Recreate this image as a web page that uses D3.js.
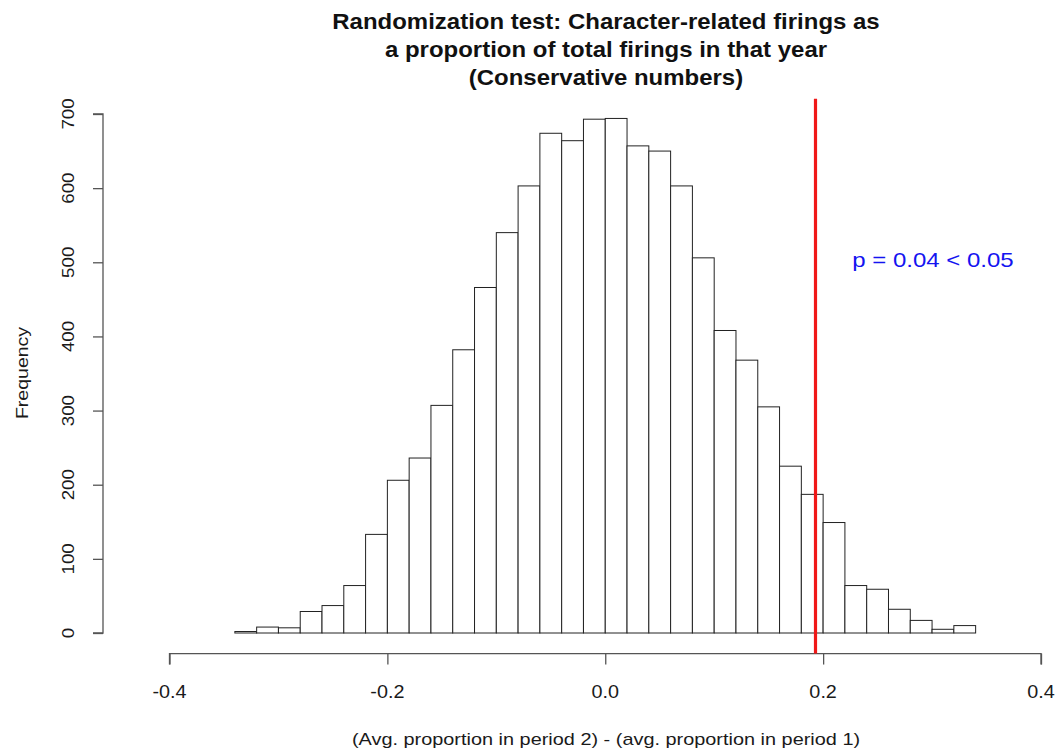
<!DOCTYPE html>
<html><head><meta charset="utf-8">
<script src="https://cdn.jsdelivr.net/npm/d3@7"></script>
<style>body{margin:0;background:#fff;} svg{display:block;font-family:"Liberation Sans",Arial,sans-serif;}</style>
</head><body>
<svg id="c" width="1057" height="751"></svg>
<script>
const binStarts = [-0.34,-0.32,-0.30,-0.28,-0.26,-0.24,-0.22,-0.20,-0.18,-0.16,-0.14,-0.12,-0.10,-0.08,-0.06,-0.04,-0.02,0.00,0.02,0.04,0.06,0.08,0.10,0.12,0.14,0.16,0.18,0.20,0.22,0.24,0.26,0.28,0.30,0.32];
const counts = [2,8,7,29,37,64,133,206,236,307,382,466,540,603,674,664,693,694,657,650,603,506,408,368,305,225,187,149,64,59,32,17,5,10];
const binWidth = 0.02;
const xTicks = [-0.4,-0.2,0.0,0.2,0.4];
const yTicks = [0,100,200,300,400,500,600,700];
const observed = 0.193;
const titleLines = ["Randomization test: Character-related firings as","a proportion of total firings in that year","(Conservative numbers)"];
const pLabel = "p = 0.04 < 0.05";
const xLabel = "(Avg. proportion in period 2) - (avg. proportion in period 1)";
const yLabel = "Frequency";

const svg = d3.select("#c");
const x = d3.scaleLinear().domain([-0.4,0.4]).range([169.5,1041]);
const y = d3.scaleLinear().domain([0,700]).range([633,114]);
const plotTop = y(720.7), plotBottom = y(-27.7);
const fmt = d => d3.format(".1f")(d).replace("\u2212","-");

function label(g, txt, tx, ty, rot, size, sx, opts={}) {
  return g.append("text")
    .attr("transform", `translate(${tx},${ty}) rotate(${rot}) scale(${sx},1)`)
    .attr("text-anchor","middle").attr("font-size",size)
    .attr("fill", opts.fill || "#1a1a1a")
    .attr("font-weight", opts.bold ? "bold" : "normal")
    .text(txt);
}

// bars
svg.append("g").selectAll("rect").data(binStarts).join("rect")
  .attr("x", (d)=>x(d)).attr("width", x(binWidth)-x(0))
  .attr("y", (d,i)=>y(counts[i])).attr("height", (d,i)=>y(0)-y(counts[i]))
  .attr("fill","#fff").attr("stroke","#222").attr("stroke-width",1);

// x axis
const gx = svg.append("g").attr("transform",`translate(0,${plotBottom})`)
  .call(d3.axisBottom(x).tickValues(xTicks).tickFormat("").tickSize(11));
gx.selectAll("path,line").attr("stroke","#555").attr("stroke-width",1.3);
gx.select(".domain").attr("d",`M${x(-0.4)},11V0H${x(0.4)}V11`);
xTicks.forEach(v => label(svg, fmt(v), x(v), 698, 0, 18, 1.1));

// y axis
const gy = svg.append("g").attr("transform","translate(103,0)")
  .call(d3.axisLeft(y).tickValues(yTicks).tickFormat("").tickSize(10));
gy.selectAll("path,line").attr("stroke","#555").attr("stroke-width",1.3);
gy.select(".domain").attr("d",`M-10,${y(0)}H0V${y(700)}H-10`);
yTicks.forEach(v => label(svg, String(v), 74, y(v), -90, 17, 1.1));

// red line
svg.append("line").attr("x1",x(observed)).attr("x2",x(observed))
  .attr("y1",plotTop).attr("y2",plotBottom).attr("stroke","#f01818").attr("stroke-width",3.2);

// title
titleLines.forEach((t,i) => label(svg, t, 606, 29 + i*28, 0, 22, 1.09, {bold:true, fill:"#111"}));

label(svg, pLabel, 933, 267, 0, 20, 1.2, {fill:"#1414f0"});
label(svg, xLabel, 606, 745, 0, 17, 1.17);
label(svg, yLabel, 28, 373, -90, 17, 1.15);
</script>
</body></html>
